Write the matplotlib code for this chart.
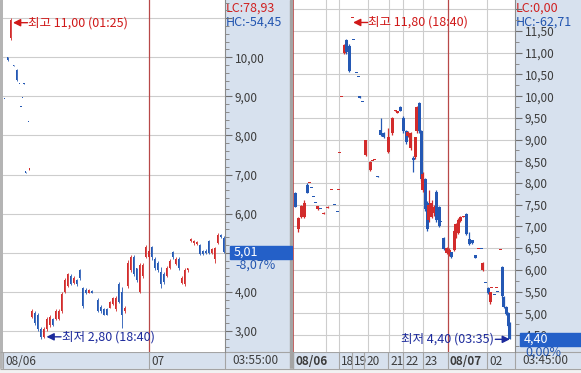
import numpy as np
import matplotlib.pyplot as plt
from matplotlib.patches import Rectangle
from matplotlib.transforms import ScaledTranslation, Bbox, TransformedBbox, blended_transform_factory
from matplotlib.ticker import MultipleLocator, FuncFormatter

plt.rcParams['font.family'] = ['Noto Sans CJK KR', 'DejaVu Sans']

# ---------------- C 202408 342.5 (call) ----------------
c_t = [0, 1, 2, 3, 4, 5, 5.5, 6, 6.5, 7, 8, 8.3,
       9, 10, 11, 12, 13, 14, 15, 16, 17, 18, 19, 20, 21, 22, 23, 24, 25, 26, 27, 28, 29,
       31, 32, 33, 34, 35, 36, 37, 38, 39, 40, 41, 42, 43, 44, 45, 46, 47, 48, 49, 50,
       51, 52, 53, 54, 55, 56, 57, 58, 59, 60, 61, 62, 63, 64, 65, 66, 67, 68, 69, 70,
       71, 72, 73]
c_open = [8.94, 10.00, 10.50, 9.79, 9.67, 9.32, 8.73, 8.97, 9.33, 7.06, 8.35, 7.13,
          3.35, 3.45, 3.40, 3.05, 2.85, 3.05, 3.15, 3.30, 3.30, 3.30, 3.50, 4.00, 4.15,
          4.40, 4.22, 4.30, 4.55, 4.10, 4.05, 3.98, 4.02,
          3.80, 3.62, 3.55, 3.55, 3.60, 3.68, 3.55, 4.20, 4.00, 3.50, 4.15, 4.55, 4.90,
          4.60, 4.00, 4.40, 4.90, 4.90, 5.15, 4.85,
          4.75, 4.50, 4.45, 4.40, 4.60, 5.02, 4.72, 4.85, 4.22, 4.20, 4.55, 5.30, 5.25,
          5.22, 5.20, 5.05, 5.05, 5.30, 5.00, 4.85, 5.25, 5.45, 5.38]
c_high = [8.94, 10.02, 11.00, 9.79, 9.70, 9.32, 8.73, 8.97, 9.33, 7.06, 8.35, 7.14,
          3.55, 3.50, 3.46, 3.10, 3.10, 3.36, 3.40, 3.32, 3.55, 3.56, 4.00, 4.36, 4.48,
          4.45, 4.40, 4.32, 4.58, 4.12, 4.10, 4.08, 4.04,
          3.85, 3.66, 3.60, 3.58, 3.78, 3.87, 3.90, 4.25, 4.12, 3.65, 4.82, 4.95, 4.95,
          4.62, 4.75, 4.75, 5.20, 5.10, 5.18, 4.88,
          4.78, 4.64, 4.50, 4.65, 4.85, 5.05, 4.90, 4.88, 4.40, 4.62, 4.62, 5.38, 5.33,
          5.30, 5.22, 5.08, 5.10, 5.32, 5.12, 5.15, 5.50, 5.48, 5.42]
c_low = [8.93, 9.90, 10.45, 9.78, 9.40, 9.31, 8.72, 8.96, 9.32, 7.05, 8.34, 7.13,
         3.33, 3.15, 3.00, 2.80, 2.82, 3.00, 3.10, 3.12, 3.28, 3.28, 3.46, 3.98, 4.13,
         4.17, 4.20, 4.15, 4.30, 3.60, 3.95, 3.97, 3.97,
         3.48, 3.45, 3.40, 3.40, 3.58, 3.66, 3.52, 3.72, 3.08, 3.45, 4.10, 4.50, 4.40,
         4.25, 3.97, 4.35, 4.87, 4.85, 4.82, 4.55,
         4.50, 4.10, 4.20, 4.38, 4.58, 4.85, 4.70, 4.55, 4.20, 4.15, 4.50, 5.28, 5.20,
         5.20, 4.95, 4.95, 4.98, 4.98, 4.98, 4.75, 5.22, 5.38, 5.00]
c_close = [8.93, 9.92, 10.95, 9.78, 9.42, 9.31, 8.72, 8.96, 9.32, 7.05, 8.34, 7.14,
           3.50, 3.20, 3.05, 2.85, 3.05, 3.30, 3.35, 3.15, 3.50, 3.50, 3.95, 4.30, 4.45,
           4.20, 4.35, 4.20, 4.35, 3.65, 3.98, 4.05, 3.98,
           3.50, 3.50, 3.42, 3.42, 3.75, 3.85, 3.85, 3.75, 3.40, 3.60, 4.75, 4.90, 4.45,
           4.30, 4.70, 4.70, 5.15, 5.05, 4.90, 4.60,
           4.55, 4.20, 4.25, 4.60, 4.80, 4.90, 4.85, 4.60, 4.35, 4.55, 4.60, 5.35, 5.30,
           5.28, 4.98, 4.98, 5.00, 5.00, 5.10, 5.12, 5.45, 5.40, 5.01]
c_name = 'C 202408 342,5'
c_lc, c_hc = 'LC:78,93', 'HC:-54,45'
c_change = '-8,07%'
c_hi_time, c_lo_time = '01:25', '18:40'
c_hours = ['08/06', '07']
c_hour_t = [-0.5, 48.2]
c_day_t = [48.2]
c_grid_t = []
c_clock = '03:55:00'

# ---------------- P 202408 342.5 (put) ----------------
p_t = [0.7, 1.8, 2.8, 3.8, 4.7, 5.5, 6.2, 6.8, 7.5, 8.3, 9.3, 10.3, 11.5, 12.7, 13.7,
       14.7, 15.2, 15.5, 16.3, 17.0, 17.7, 18.7, 19.7, 20.3, 21.0, 21.7, 22.3, 23.0,
       24.3, 25.7, 26.5, 27.3, 28.3, 29.3, 30.3, 31.7, 33.0, 34.0, 34.7, 35.7, 36.7,
       37.7, 38.3, 39.3, 40.0, 40.7, 41.3, 42.0, 42.7, 43.3, 44.0, 44.7, 45.3, 46.3,
       47.0, 47.7, 48.7, 49.3, 50.3, 51.3, 52.0, 52.7, 53.7, 54.3, 55.0, 55.7, 56.7,
       57.7, 58.7, 59.7, 60.7, 61.7, 62.7, 63.3, 64.3, 65.0, 65.7, 66.3, 67.0, 67.7,
       68.3, 69.0, 69.7, 70.3, 71.0, 71.7, 72.3]
p_open = [7.77, 6.95, 7.22, 7.22, 7.95, 8.00, 7.89, 7.68, 7.55, 7.40, 7.41, 7.29, 7.43,
          7.84, 7.50, 7.34, 7.84, 8.69, 9.98, 11.00, 11.30, 11.15, 11.79, 11.30, 10.54,
          10.45, 10.00, 9.87, 8.65, 8.30, 8.50, 8.52, 8.15, 9.22, 9.15, 8.72, 9.15, 9.66,
          9.62, 9.76, 9.50, 9.20, 9.08, 8.80, 8.57, 8.60, 9.20, 9.85, 9.20, 7.85, 8.10,
          7.55, 7.15, 7.22, 7.30, 7.80, 7.45, 7.11, 6.73, 6.38, 6.36, 6.40, 6.45, 6.75,
          6.85, 7.12, 7.22, 7.28, 6.70, 6.68, 6.34, 6.48, 6.48, 6.00, 5.70, 5.58, 5.25,
          5.58, 5.43, 5.58, 5.50, 6.45, 6.06, 5.38, 5.14, 5.00, 4.78]
p_high = [7.80, 7.22, 7.50, 7.60, 8.00, 8.01, 7.89, 7.68, 7.55, 7.48, 7.41, 7.33, 7.46,
          7.85, 7.50, 7.34, 7.85, 8.70, 9.99, 11.20, 11.32, 11.20, 11.80, 11.30, 10.54,
          10.45, 10.00, 9.87, 9.00, 8.50, 8.51, 8.53, 8.15, 9.50, 9.17, 9.27, 9.52, 9.67,
          9.63, 9.78, 9.55, 9.22, 9.20, 9.18, 8.62, 9.07, 9.78, 9.87, 9.22, 8.25, 8.12,
          7.58, 7.85, 7.60, 7.50, 7.85, 7.48, 7.11, 6.75, 6.52, 6.50, 6.42, 6.92, 7.08,
          7.20, 7.24, 7.23, 7.30, 6.87, 6.68, 6.35, 6.49, 6.48, 6.18, 5.70, 5.60, 5.50,
          5.59, 5.43, 5.59, 5.50, 6.46, 6.08, 5.40, 5.16, 5.02, 4.80]
p_low = [7.44, 6.88, 7.20, 7.20, 7.76, 8.00, 7.88, 7.67, 7.54, 7.38, 7.40, 7.28, 7.42,
         7.84, 7.49, 7.33, 7.84, 8.69, 9.98, 10.98, 10.98, 10.55, 11.79, 11.29, 10.53,
         10.44, 9.95, 9.86, 8.63, 8.28, 8.50, 8.52, 8.14, 9.08, 9.04, 8.70, 9.10, 9.66,
         9.62, 9.65, 9.15, 8.90, 9.05, 8.75, 8.25, 8.55, 9.15, 9.15, 8.05, 7.80, 7.35,
         6.90, 7.10, 7.20, 7.25, 7.10, 6.98, 7.10, 6.45, 6.36, 6.33, 6.28, 6.43, 6.73,
         6.83, 7.10, 7.22, 6.80, 6.58, 6.60, 6.27, 6.48, 6.47, 5.97, 5.69, 5.45, 5.22,
         5.58, 5.42, 5.58, 5.49, 6.45, 5.36, 5.12, 4.96, 4.68, 4.40]
p_close = [7.45, 7.20, 7.48, 7.55, 7.78, 8.01, 7.88, 7.67, 7.54, 7.47, 7.40, 7.32, 7.45,
           7.85, 7.49, 7.33, 7.85, 8.70, 9.99, 11.18, 11.02, 10.58, 11.80, 11.29, 10.53,
           10.44, 9.96, 9.86, 8.99, 8.48, 8.51, 8.53, 8.14, 9.10, 9.05, 9.05, 9.50, 9.67,
           9.63, 9.66, 9.20, 8.95, 9.18, 9.15, 8.52, 9.05, 9.75, 9.20, 8.10, 8.20, 7.40,
           6.95, 7.50, 7.55, 7.45, 7.15, 7.00, 7.10, 6.48, 6.50, 6.45, 6.30, 6.90, 7.05,
           7.15, 7.22, 7.23, 6.82, 6.60, 6.61, 6.28, 6.49, 6.47, 6.15, 5.69, 5.47, 5.48,
           5.59, 5.42, 5.59, 5.49, 6.46, 5.40, 5.14, 4.98, 4.70, 4.40]
p_name = 'P 202408 342,5'
p_lc, p_hc = 'LC:0,00', 'HC:-62,71'
p_change = '0,00%'
p_hi_time, p_lo_time = '18:40', '03:35'
p_hours = ['08/06', '18', '19', '20', '21', '22', '23', '08/07', '02']
p_hour_t = [0, 15.3, 19.7, 23.7, 31.8, 36.7, 43.3, 51.5, 64.7]
p_day_t = [0, 51.5]
p_grid_t = [11.0, 15.3, 25.0, 32.0, 36.7, 43.3, 64.7]
p_clock = '03:45:00'

UP, DOWN = '#d22b2b', '#2458b4'
HI_RED, LO_NAVY = '#d01818', '#1c2a9c'
GRID, DAYLINE = '#cdcdcd', '#b84848'
AXBG, SEP = '#d7e1ee', '#a4a4a4'

W, H = 581, 373
fig = plt.figure(figsize=(W / 100, H / 100), dpi=100)


def fmt(v):
    return f'{v:.2f}'.replace('.', ',')


def shift(dx, dy):
    return ScaledTranslation(dx / 100, -dy / 100, fig.dpi_scale_trans)


# background pieces (pixel coordinates of the window frame)
bg = fig.add_axes([0, 0, 1, 1], zorder=-1)
bg.set_xlim(0, W)
bg.set_ylim(H, 0)
bg.axis('off')
bg.add_patch(Rectangle((0, 0), 3, H, color='#b4b4b4'))
bg.add_patch(Rectangle((225, 0), 65, 352, color=AXBG))
bg.add_patch(Rectangle((515, 0), 66, 352, color=AXBG))
bg.add_patch(Rectangle((3, 352), 287, 17, color=AXBG))
bg.add_patch(Rectangle((293, 352), 288, 17, color=AXBG))
bg.add_patch(Rectangle((290, 0), 3, H, color=SEP))
bg.add_patch(Rectangle((0, 369), W, 4, color='#f2f2f2'))
bg.hlines([352, 369], 0, W, colors=SEP, lw=0.8)
bg.vlines([225, 515], 352, 369, colors=SEP, lw=0.8)


def panel(x0, xlim, ylim, major, minor, hours, hour_t, day_t, grid_t, last, label_top, bold):
    ax = fig.add_axes([x0 / W, 21 / H, 222 / W, 352 / H])
    ax.set_xlim(*xlim)
    ax.set_ylim(*ylim)
    ppu = 352 / (ylim[1] - ylim[0])

    for s in ['left', 'top', 'bottom']:
        ax.spines[s].set_visible(False)
    ax.spines['right'].set_color('#8a8a8a')
    ax.yaxis.tick_right()
    ax.yaxis.set_major_locator(MultipleLocator(major))
    ax.yaxis.set_minor_locator(MultipleLocator(minor))
    # the last-price box hides the tick label sitting right under it
    ax.yaxis.set_major_formatter(FuncFormatter(
        lambda v, _: fmt(v) if v < label_top and abs(v - last) * ppu > 3 else ''))
    ax.tick_params(axis='y', which='major', direction='out', length=5, width=0.8,
                   color='#707070', labelsize=8.5, labelcolor='#3c3c3c', pad=2)
    ax.tick_params(axis='y', which='minor', direction='out', length=3, width=0.7,
                   color='#8a8a8a')
    ax.grid(axis='y', which='major', color=GRID, lw=0.8)
    ax.set_axisbelow(True)
    for gt in grid_t:
        ax.axvline(gt, color=GRID, lw=0.8, zorder=1)
    for dt in day_t:
        ax.axvline(dt, color=DAYLINE, lw=1.2 if dt == xlim[0] else 0.9, zorder=2)

    ax.set_xticks(hour_t)
    ax.set_xticklabels(hours, ha='left', fontsize=8.5, color='#3c3c3c')
    ax.tick_params(axis='x', length=0, pad=2.5)
    for lbl in ax.get_xticklabels():
        lbl.set_transform(lbl.get_transform() + shift(2, 0))
        if lbl.get_text() in bold:
            lbl.set_fontweight('bold')
    bt = blended_transform_factory(ax.transData, ax.transAxes)
    ax.vlines(hour_t, -17 / 352, 0, transform=bt, colors=SEP, lw=0.8, clip_on=False)
    return ax, ppu


def candles(ax, t, o, h, l, c, ppu, width, wick):
    col = np.where(c >= o, UP, DOWN)
    ax.vlines(t, l, h, colors=col, lw=wick, zorder=3)
    ax.bar(t, np.maximum(np.abs(c - o), 1.2 / ppu), width, np.minimum(o, c),
           color=col, lw=0, zorder=3)


def extras(ax, x0, t, o, h, l, c, ppu, name, lc, hc, change, hi_time, lo_time, clock,
           hi_shift, lo_shift, lo_side):
    # title and LC / HC
    bg.add_patch(Rectangle((x0 + 5, 5), 5, 5, facecolor='#a8a8a8', edgecolor='#606060', lw=0.6))
    bg.text(x0 + 15, 8, name, fontsize=9, color='#2a2a2a', va='center')
    bg.text(x0 + 223, 8, lc, fontsize=9, color='#d02020', va='center')
    bg.text(x0 + 223, 22, hc, fontsize=9, color='#2255b0', va='center')
    bg.text(x0 + 229, 361, clock, fontsize=8.5, color='#3c3c3c', va='center')

    # highest / lowest markers
    ih, il = int(np.argmax(h)), int(np.argmin(l))
    ap = dict(arrowstyle='-|>', lw=1, mutation_scale=11, shrinkA=0, shrinkB=0)
    xy_tr = ax.transData + shift(*hi_shift)
    ax.annotate('', xy=(t[ih], h[ih]), xycoords=xy_tr, xytext=(10.5, 0),
                textcoords='offset points', arrowprops=dict(ap, color=HI_RED))
    ax.annotate(f'최고 {fmt(h[ih])} ({hi_time})', xy=(t[ih], h[ih]), xycoords=xy_tr,
                xytext=(11, 0), textcoords='offset points', va='center', ha='left',
                fontsize=9, color=HI_RED)
    xy_tr = ax.transData + shift(*lo_shift)
    ax.annotate('', xy=(t[il], l[il]), xycoords=xy_tr, xytext=(lo_side * 10.5, 0),
                textcoords='offset points', arrowprops=dict(ap, color=LO_NAVY))
    ax.annotate(f'최저 {fmt(l[il])} ({lo_time})', xy=(t[il], l[il]), xycoords=xy_tr,
                xytext=(lo_side * 11.5, 0), textcoords='offset points', va='center',
                ha='left' if lo_side > 0 else 'right', fontsize=9, color=LO_NAVY)

    # last price box
    tr = blended_transform_factory(ax.transAxes, ax.transData)
    last = c[-1]
    ax.add_patch(Rectangle((1 + 5 / 222, last - 6.5 / ppu), 62 / 222, 13 / ppu,
                           transform=tr, color='#2460c8', clip_on=False, zorder=6))
    ax.text(1 + 9 / 222, last, fmt(last), transform=tr, color='white', fontsize=9,
            va='center', clip_on=False, zorder=7)
    pct = ax.text(1 + 10 / 222, last - 13 / ppu, change, transform=tr, color='#2255b0',
                  fontsize=9, va='center', zorder=7)
    pct.set_clip_box(TransformedBbox(Bbox([[0, 21 / H], [1, 1]]), fig.transFigure))


# left panel: call
t, o, h, l, c = map(np.asarray, (c_t, c_open, c_high, c_low, c_close))
axc, ppu = panel(3, (-0.5, 73.5), (2.463, 11.465), 1.0, 0.2, c_hours, c_hour_t,
                 c_day_t, c_grid_t, c[-1], 10.5, [])
candles(axc, t, o, h, l, c, ppu, 0.5, 0.6)
extras(axc, 3, t, o, h, l, c, ppu, c_name, c_lc, c_hc, c_change, c_hi_time, c_lo_time,
       c_clock, (2.5, 4.5), (6, -2), 1)

# right panel: put
t, o, h, l, c = map(np.asarray, (p_t, p_open, p_high, p_low, p_close))
axp, ppu = panel(293, (0, 74), (4.108, 12.214), 0.5, 0.25, p_hours, p_hour_t,
                 p_day_t, p_grid_t, c[-1], 11.75, ['08/06', '08/07'])
candles(axp, t, o, h, l, c, ppu, 1.0, 0.9)
extras(axp, 293, t, o, h, l, c, ppu, p_name, p_lc, p_hc, p_change, p_hi_time, p_lo_time,
       p_clock, (1, 4.5), (0, 0), -1)

fig.savefig('out.png', dpi=100)
